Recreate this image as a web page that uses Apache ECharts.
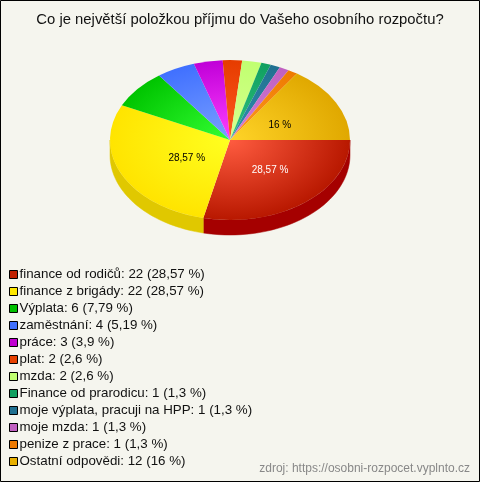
<!DOCTYPE html>
<html><head><meta charset="utf-8">
<style>html,body{margin:0;padding:0;background:#f5f5ee}#c{width:480px;height:482px}</style>
<script src="https://cdn.jsdelivr.net/npm/echarts@6/dist/echarts.min.js"></script>
</head><body><div id="c"></div>
<script>
const categories = ["finance od rodičů","finance z brigády","Výplata","zaměstnání","práce","plat","mzda","Finance od prarodicu","moje výplata, pracuji na HPP","moje mzda","penize z prace","Ostatní odpovědi"];
const values = [22,22,6,4,3,2,2,1,1,1,1,12];
const percents = ["28,57","28,57","7,79","5,19","3,9","2,6","2,6","1,3","1,3","1,3","1,3","16"];
const legendColors = ["#c02000","#ffe800","#00c000","#4070ff","#c000d0","#e64000","#c0ff70","#10a060","#207090","#c060c0","#ee7a00","#e8b000"];
const innerColors = ["#ff5c40","#ffff20","#33ff33","#7aa0ff","#ff40ff","#ff5a1e","#d8ff90","#30c080","#3090b0","#d080d8","#ff9a20","#ffd428"];
const outerColors = ["#b81800","#ffe400","#00c400","#4070ff","#c000d8","#e63c00","#c0ff70","#10a060","#207090","#c060c0","#ee7a00","#e0a800"];
const sideColors = ["#a50000","#e0c800","#009000","#3050c0","#9000a0","#b03000","#90c050","#087848","#185470","#904890","#b05c00","#a87e00"];

const CX=230, CY=140, RX=120, RY=80, DEPTH=15;
const labelSpots = {0:{f:.535,dy:-3,color:"#fff"},1:{f:.40,dy:4,color:"#000"},11:{f:.47,dy:3,color:"#000"}};
const total = values.reduce((a,b)=>a+b,0);
const starts=[]; let acc=0;
values.forEach(v=>{starts.push(acc/total*2*Math.PI); acc+=v;});

function rim(a0,a1){
  const s=Math.max(a0,0), e=Math.min(a1,Math.PI);
  if(e<=s) return null;
  const top=[],bot=[];
  const n=40;
  for(let i=0;i<=n;i++){
    const a=s+(e-s)*i/n, x=CX+RX*Math.cos(a), y=CY+RY*Math.sin(a);
    top.push([x,y]); bot.unshift([x,y+DEPTH]);
  }
  return top.concat(bot);
}
function makeSeries(i){
  return {
    type:'custom', name:categories[i], coordinateSystem:'none', silent:true,
    itemStyle:{color:legendColors[i]},
    data:[[values[i]]],
    renderItem(params,api){
      const a0=starts[i], a1=a0+api.value(0)/total*2*Math.PI;
      const children=[];
      const pts=rim(a0,a1);
      if(pts) children.push({type:'polygon',shape:{points:pts},style:{fill:sideColors[i],stroke:sideColors[i],lineWidth:.5}});
      children.push({type:'group',x:CX,y:CY,scaleY:RY/RX,children:[{
        type:'sector',
        shape:{cx:0,cy:0,r0:0,r:RX,startAngle:a0,endAngle:a1,clockwise:true},
        style:{fill:{type:'radial',x:0,y:0,r:RX,global:true,colorStops:[{offset:0,color:innerColors[i]},{offset:1,color:outerColors[i]}]}}
      }]});
      const spot=labelSpots[i];
      if(spot){
        const m=(a0+a1)/2;
        children.push({type:'text',z2:10,
          x:CX+RX*spot.f*Math.cos(m), y:CY+RY*spot.f*Math.sin(m)+spot.dy,
          style:{text:percents[i]+" %",fill:spot.color,font:'10px "Liberation Sans"',align:'center',verticalAlign:'middle'}});
      }
      return {type:'group',children};
    }
  };
}
const legendText = {};
categories.forEach((c,i)=>{legendText[c]=c+": "+values[i]+" ("+percents[i]+" %)";});

const chart=echarts.init(document.getElementById('c'),null,{renderer:'canvas'});
chart.setOption({
  animation:false,
  backgroundColor:'#f5f5ee',
  title:{text:"Co je největší položkou příjmu do Vašeho osobního rozpočtu?",left:'center',top:9,padding:[3,0,3,-4],
    textStyle:{fontFamily:'Liberation Sans',fontSize:14.85,fontWeight:'normal',color:'#111'}},
  legend:{orient:'vertical',left:9,top:267,itemWidth:8,itemHeight:8,itemGap:2,icon:'rect',selectedMode:false,
    padding:0,
    data:categories,
    formatter:n=>legendText[n],
    itemStyle:{borderColor:'#000',borderWidth:1},
    textStyle:{fontFamily:'Liberation Sans',fontSize:13.33,color:'#111',padding:[1,0,0,-3],lineHeight:14}},
  graphic:[
    {type:'rect',silent:true,z:100,shape:{x:.5,y:.5,width:479,height:481},style:{fill:'transparent',stroke:'#000',lineWidth:1}},
    {type:'text',silent:true,z:100,right:10,top:463,style:{text:"zdroj: https://osobni-rozpocet.vyplnto.cz",fill:'#888',font:'12px "Liberation Sans"'}}
  ],
  series:categories.map((c,i)=>makeSeries(i))
});
</script></body></html>
